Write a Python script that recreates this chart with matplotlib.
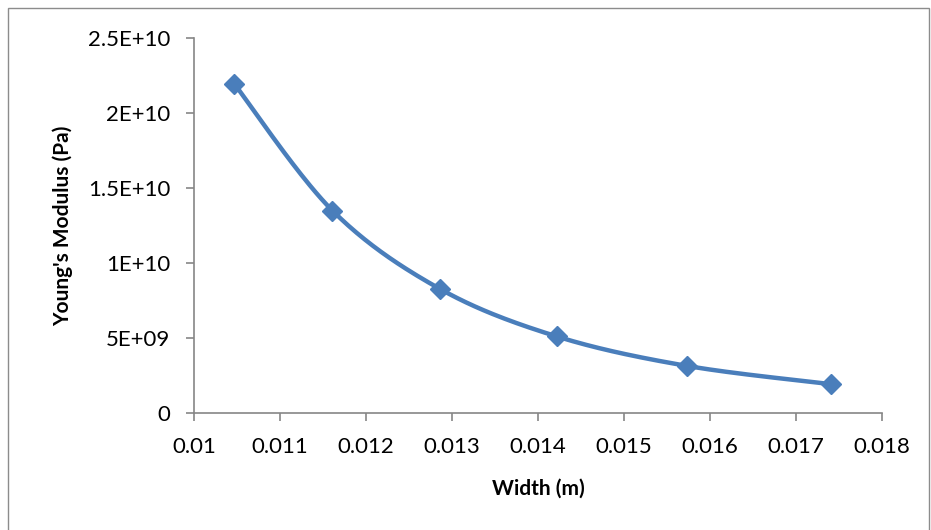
import numpy as np
import matplotlib
matplotlib.use("Agg")
import matplotlib.pyplot as plt
from matplotlib.patches import Rectangle

width_m = [0.01047, 0.01161, 0.01286, 0.01422, 0.01573, 0.01741]
youngs_pa = [2.193e10, 1.349e10, 8.27e9, 5.10e9, 3.14e9, 1.92e9]

x_ticks = [0.01, 0.011, 0.012, 0.013, 0.014, 0.015, 0.016, 0.017, 0.018]
x_tick_labels = ["0.01", "0.011", "0.012", "0.013", "0.014", "0.015", "0.016", "0.017", "0.018"]
y_ticks = [0, 5e9, 1e10, 1.5e10, 2e10, 2.5e10]
y_tick_labels = ["0", "5E+09", "1E+10", "1.5E+10", "2E+10", "2.5E+10"]

plt.rcParams["font.family"] = ["Lato", "DejaVu Sans"]

fig = plt.figure(figsize=(9.31, 5.30), dpi=100)
ax = fig.add_axes([0.2084, 0.2208, 0.7390, 0.7075])

# smoothed line like Excel (Catmull-Rom through points, in normalized space)
xlim = (0.01, 0.018)
ylim = (0, 2.5e10)
px = (np.array(width_m) - xlim[0]) / (xlim[1] - xlim[0])
py = (np.array(youngs_pa) - ylim[0]) / (ylim[1] - ylim[0]) * 0.51
pts = np.column_stack([px, py])
ext = np.vstack([pts[0], pts, pts[-1]])
curve = []
for i in range(1, len(ext) - 2):
    p0, p1, p2, p3 = ext[i - 1], ext[i], ext[i + 1], ext[i + 2]
    t = np.linspace(0, 1, 40)[:, None]
    c = 0.5 * ((2 * p1) + (-p0 + p2) * t + (2 * p0 - 5 * p1 + 4 * p2 - p3) * t ** 2
               + (-p0 + 3 * p1 - 3 * p2 + p3) * t ** 3)
    curve.append(c)
curve = np.vstack(curve)
cx = curve[:, 0] * (xlim[1] - xlim[0]) + xlim[0]
cy = curve[:, 1] / 0.51 * (ylim[1] - ylim[0]) + ylim[0]

blue = "#4A7EBB"
ax.plot(cx, cy, color=blue, lw=3.2, solid_capstyle="round", zorder=2)
ax.plot(width_m, youngs_pa, linestyle="none", marker="D", markersize=10,
        color=blue, markeredgecolor=blue, zorder=3)

ax.set_xlim(*xlim)
ax.set_ylim(*ylim)
ax.set_xticks(x_ticks)
ax.set_xticklabels(x_tick_labels)
ax.set_yticks(y_ticks)
ax.set_yticklabels(y_tick_labels)

for s in ["top", "right"]:
    ax.spines[s].set_visible(False)
for s in ["left", "bottom"]:
    ax.spines[s].set_color("#868686")
    ax.spines[s].set_linewidth(1.2)
ax.tick_params(axis="both", direction="out", length=6, width=1.2, color="#868686",
               labelsize=16, labelcolor="black")
ax.tick_params(axis="x", pad=11)
ax.tick_params(axis="y", pad=11)

ax.set_xlabel("Width (m)", fontsize=15, fontweight="bold", labelpad=16)
ax.set_ylabel("Young's Modulus (Pa)", fontsize=15, fontweight="bold", labelpad=11)

fig.patches.append(Rectangle((8 / 931, -0.01), 921 / 931, 1 - 8 / 530 + 0.01,
                             transform=fig.transFigure, fill=False,
                             edgecolor="#8c8c8c", lw=1.0))

fig.savefig("out.png", dpi=100)
